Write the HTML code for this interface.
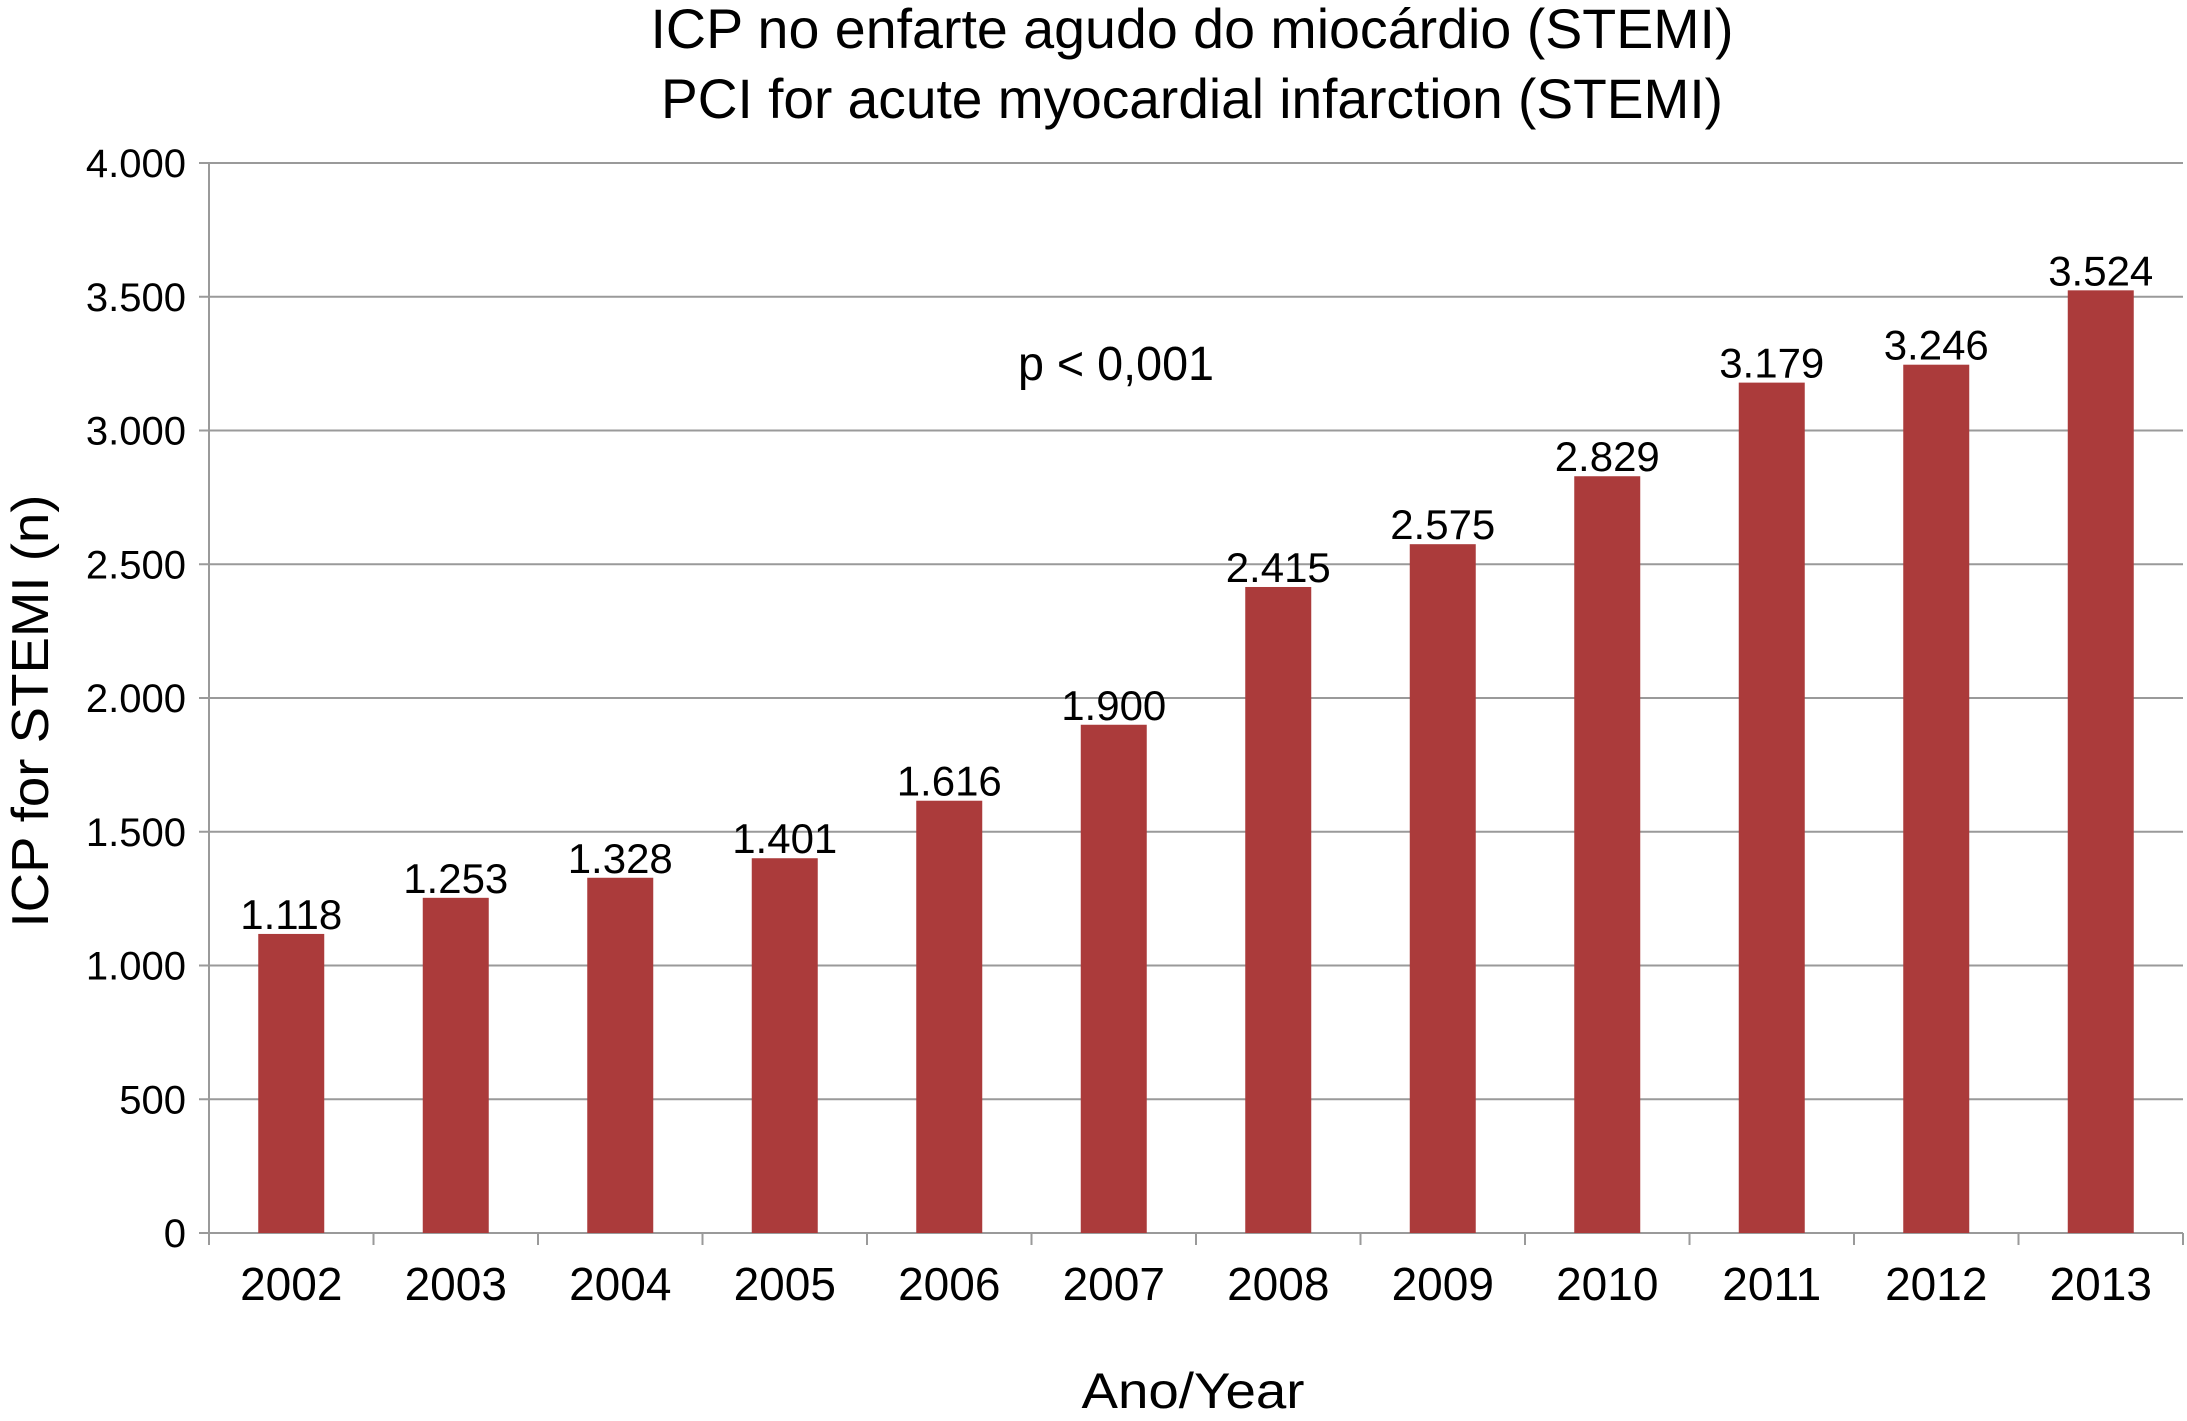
<!DOCTYPE html>
<html><head><meta charset="utf-8"><style>
html,body{margin:0;padding:0;background:#fff;}
svg{display:block;font-family:"Liberation Sans",sans-serif;}
</style></head><body>
<svg id="chart" width="2187" height="1421" viewBox="0 0 2187 1421" xmlns="http://www.w3.org/2000/svg">
<text x="1192" y="48" font-size="56" text-anchor="middle" textLength="1083" lengthAdjust="spacingAndGlyphs">ICP no enfarte agudo do miocárdio (STEMI)</text>
<text x="1192" y="118" font-size="56" text-anchor="middle" textLength="1062" lengthAdjust="spacingAndGlyphs">PCI for acute myocardial infarction (STEMI)</text>
<text x="1018" y="380" font-size="48" textLength="196" lengthAdjust="spacingAndGlyphs">p &lt; 0,001</text>
<text transform="translate(48,711) rotate(-90)" font-size="52" text-anchor="middle" textLength="433" lengthAdjust="spacingAndGlyphs">ICP for STEMI (n)</text>
<text x="1193" y="1408" font-size="50" text-anchor="middle" textLength="223" lengthAdjust="spacingAndGlyphs">Ano/Year</text>
<g id="grid"></g><g id="bars"></g><g id="axes"></g>
</svg>
<script>
const categories = ["2002","2003","2004","2005","2006","2007","2008","2009","2010","2011","2012","2013"];
const values = [1118,1253,1328,1401,1616,1900,2415,2575,2829,3179,3246,3524];
const valueLabels = ["1.118","1.253","1.328","1.401","1.616","1.900","2.415","2.575","2.829","3.179","3.246","3.524"];
const yTicks = [0,500,1000,1500,2000,2500,3000,3500,4000];
const yTickLabels = ["0","500","1.000","1.500","2.000","2.500","3.000","3.500","4.000"];

const NS="http://www.w3.org/2000/svg";
const L=209,R=2183,T=163,B=1233,yMax=4000;
const band=(R-L)/categories.length, bw=66;
const y=v=>B-(v/yMax)*(B-T);
const xc=i=>L+band*(i+0.5);
function mk(tag,parent){const e=document.createElementNS(NS,tag);document.getElementById(parent).appendChild(e);return e;}

yTicks.forEach((t,i)=>{
  const g=mk('line','grid');
  
  
  g.setAttribute('x1',L-10);g.setAttribute('x2',R);g.setAttribute('y1',y(t));g.setAttribute('y2',y(t));
  g.setAttribute('stroke','#9a9a9a');g.setAttribute('stroke-width','2');
  const tx=mk('text','axes');
  
  
  tx.setAttribute('x',186);tx.setAttribute('y',y(t)+14);tx.setAttribute('font-size','40');tx.setAttribute('text-anchor','end');
  tx.textContent=yTickLabels[i];
});
const ya=mk('line','axes');


ya.setAttribute('x1',L);ya.setAttribute('x2',L);ya.setAttribute('y1',T);ya.setAttribute('y2',B+12);ya.setAttribute('stroke','#9a9a9a');ya.setAttribute('stroke-width','2');
for(let i=1;i<=categories.length;i++){
  const tk=mk('line','axes');
  
  
  tk.setAttribute('x1',L+band*i);tk.setAttribute('x2',L+band*i);tk.setAttribute('y1',B);tk.setAttribute('y2',B+12);tk.setAttribute('stroke','#9a9a9a');tk.setAttribute('stroke-width','2');
}
categories.forEach((c,i)=>{
  const r=mk('rect','bars');
  
  
  r.setAttribute('x',xc(i)-bw/2);r.setAttribute('y',y(values[i]));r.setAttribute('width',bw);r.setAttribute('height',B-y(values[i]));r.setAttribute('fill','#ab3b3b');
  const v=mk('text','bars');
  
  
  v.setAttribute('x',xc(i));v.setAttribute('y',y(values[i])-5);v.setAttribute('font-size','42');v.setAttribute('text-anchor','middle');
  v.textContent=valueLabels[i];
  const xl=mk('text','axes');
  
  
  xl.setAttribute('x',xc(i));xl.setAttribute('y',1300);xl.setAttribute('font-size','46');xl.setAttribute('text-anchor','middle');
  xl.textContent=c;
});
</script>
</body></html>
